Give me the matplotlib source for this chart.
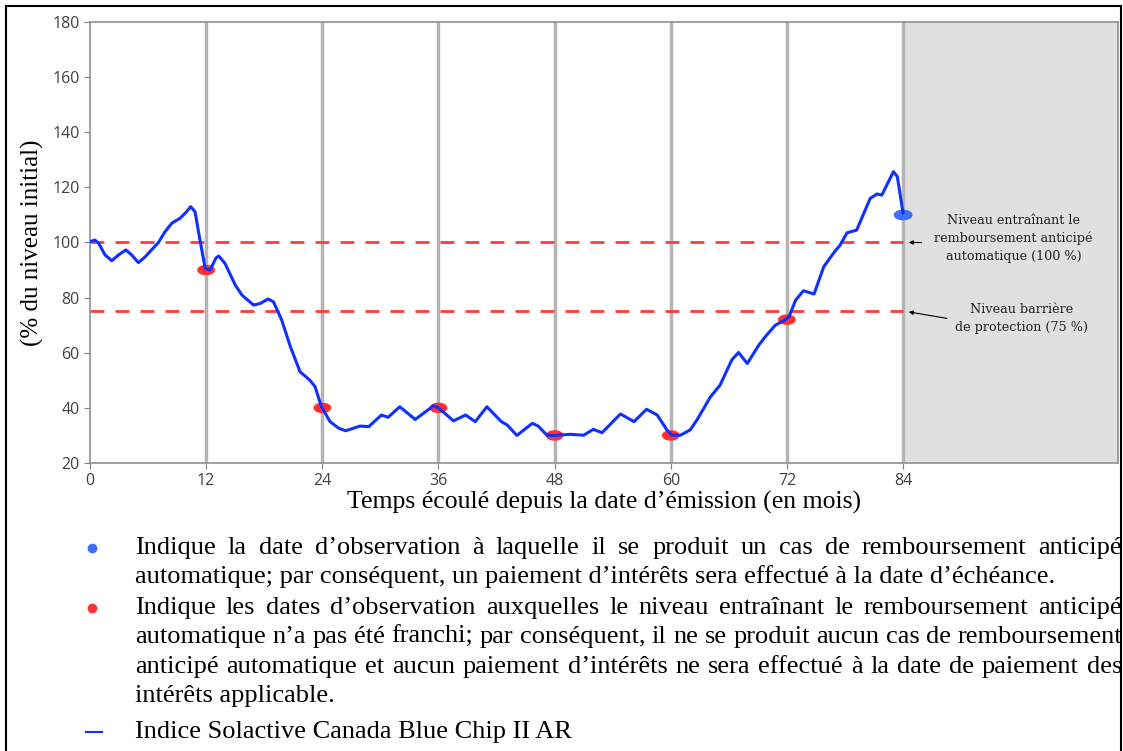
import matplotlib
matplotlib.use('Agg')
import matplotlib.pyplot as plt
from matplotlib.patches import Ellipse, Rectangle
from matplotlib.lines import Line2D

W, H = 1123, 751

# index path (months, % of initial level)
mois = [0, 0.5, 0.9, 1.55, 2.25, 2.95, 3.7, 4.3, 5.0, 5.7, 6.4, 7.05, 7.75, 8.45, 9.3,
        10.0, 10.4, 10.85, 11.3, 11.9, 12.4, 13.0, 13.3, 13.95, 15.0, 15.7, 16.9, 17.6,
        18.4, 18.95, 19.8, 20.7, 21.7, 22.7, 23.25, 23.9, 24.8, 25.7, 26.4, 27.9, 28.8,
        30.1, 30.8, 32.0, 33.6, 35.5, 36.0, 37.55, 38.8, 39.8, 41.0, 42.5, 43.1, 44.1,
        45.7, 46.3, 47.2, 48.0, 49.6, 51.0, 52.0, 52.9, 54.8, 56.2, 57.5, 58.6, 59.6,
        60.1, 61.0, 62.0, 62.7, 64.1, 65.1, 66.3, 67.0, 67.9, 69.1, 69.9, 70.8, 71.8,
        72.2, 72.9, 73.7, 74.8, 75.8, 76.8, 77.5, 78.2, 79.2, 80.6, 81.3, 81.8, 83.0,
        83.4, 84.0]
niveau = [100.3, 100.9, 99.7, 95.5, 93.4, 95.5, 97.3, 95.5, 92.7, 94.8, 97.5, 99.9, 103.9, 107, 108.8,
          111.2, 113, 111.2, 102.1, 90.6, 90, 94.3, 95.1, 92.4, 84.6, 80.9, 77.3, 77.9,
          79.5, 78.5, 71.9, 62.2, 53.1, 50.1, 47.7, 40.5, 35, 32.6, 31.7, 33.4, 33.2,
          37.4, 36.6, 40.4, 35.8, 40.8, 40, 35.3, 37.4, 35, 40.4, 35, 33.8, 30,
          34.4, 33.4, 30.1, 30, 30.4, 30.1, 32.2, 31, 37.8, 35, 39.5, 37.4, 32,
          30.1, 30.1, 32, 35.6, 44, 48.3, 57.4, 60.1, 56.1, 62.8, 66.4, 70, 71.9,
          73, 79.1, 82.5, 81.3, 91.2, 96.1, 99.1, 103.5, 104.5, 116, 117.6, 117.2, 125.7,
          123.9, 110.6]

obs_rouge_x = [12, 24, 36, 48, 60, 72]
obs_rouge_y = [90, 40, 40, 30, 30, 72]
obs_bleu_x = [84]
obs_bleu_y = [110]

dates_obs = [12, 24, 36, 48, 60, 72, 84]
seuil_remb = 100
seuil_barriere = 75

fig = plt.figure(figsize=(W / 100, H / 100), dpi=100)
ax = fig.add_axes([90 / W, 1 - 463 / H, (1118 - 90) / W, (463 - 22) / H])

xmax = 106.2
ax.set_xlim(0, xmax)
ax.set_ylim(20, 180)

ax.axvspan(84, xmax, color='#e0e0e0', zorder=0)
for d in dates_obs:
    ax.axvline(d, color='#b4b4b4', lw=2.5, zorder=1)

ax.plot([0, 84], [seuil_remb] * 2, color='#ff3b3b', lw=2, dashes=(5, 4), zorder=2)
ax.plot([0, 84], [seuil_barriere] * 2, color='#ff3b3b', lw=2, dashes=(5, 4), zorder=2)

for x, y in zip(obs_rouge_x, obs_rouge_y):
    ax.add_patch(Ellipse((x, y), 1.7, 3.3, color='#ff3030', zorder=3))
for x, y in zip(obs_bleu_x, obs_bleu_y):
    ax.add_patch(Ellipse((x, y), 1.8, 3.4, color='#3f6fff', zorder=3))

ax.plot(mois, niveau, color='#1030ff', lw=2.2, zorder=4,
        solid_joinstyle='round', solid_capstyle='round')

ax.set_xticks([0] + dates_obs)
ax.set_yticks(range(20, 181, 20))
for lab in ax.get_xticklabels() + ax.get_yticklabels():
    lab.set_family('Open Sans')
    lab.set_fontsize(11.5)
ax.tick_params(colors='#808080', length=4, labelcolor='#404040')
for s in ax.spines.values():
    s.set_color('#909090')
    s.set_linewidth(1.2)

ax.set_ylabel('(% du niveau initial)', family='Liberation Serif', fontsize=18, labelpad=6)
ax.set_xlabel('Temps écoulé depuis la date d’émission (en mois)', family='Liberation Serif',
              fontsize=18.5, labelpad=1)

ann = dict(family='DejaVu Serif', fontsize=9.2, color='#202020', ha='center', va='center',
           linespacing=1.45)
ax.annotate('', xy=(84.3, seuil_remb), xytext=(86.2, seuil_remb),
            arrowprops=dict(arrowstyle='-|>', color='black', lw=0.8, mutation_scale=6))
ax.text(95.4, 101.5, 'Niveau entraînant le\nremboursement anticipé\nautomatique (100 %)', **ann)
ax.annotate('', xy=(84.3, seuil_barriere), xytext=(88.8, 72.3),
            arrowprops=dict(arrowstyle='-|>', color='black', lw=0.8, mutation_scale=6))
ax.text(96.2, 72.5, 'Niveau barrière\nde protection (75 %)', **ann)

# frame around the figure
fig.add_artist(Rectangle((6 / W, -0.01), (1121 - 6) / W, 1 - 6 / H + 0.01, transform=fig.transFigure,
                         fill=False, edgecolor='black', lw=1.5))

# notes below the chart
lignes = [
    ('Indique la date d’observation à laquelle il se produit un cas de remboursement anticipé', 554, True),
    ('automatique; par conséquent, un paiement d’intérêts sera effectué à la date d’échéance.', 583, False),
    ('Indique les dates d’observation auxquelles le niveau entraînant le remboursement anticipé', 614, True),
    ('automatique n’a pas été franchi; par conséquent, il ne se produit aucun cas de remboursement', 643, True),
    ('anticipé automatique et aucun paiement d’intérêts ne sera effectué à la date de paiement des', 673, True),
    ('intérêts applicable.', 702, False),
    ('Indice Solactive Canada Blue Chip II AR', 738, False),
]
x0, x1 = 135, 1122
renderer = fig.canvas.get_renderer()
txt = dict(family='Liberation Serif', fontsize=19, color='black', va='baseline', ha='left')
for ligne, yb, just in lignes:
    if not just:
        fig.text(x0 / W, 1 - yb / H, ligne, **txt)
        continue
    mots = ligne.split(' ')
    arts = [fig.text(0, 1 - yb / H, m, **txt) for m in mots]
    larg = [a.get_window_extent(renderer).width for a in arts]
    gap = (x1 - x0 - sum(larg)) / (len(mots) - 1)
    x = x0
    for a, w in zip(arts, larg):
        a.set_x(x / W)
        x += w + gap

fig.add_artist(Line2D([92 / W], [1 - 548 / H], marker='o', ms=6, color='#3f6fff', transform=fig.transFigure))
fig.add_artist(Line2D([92 / W], [1 - 608 / H], marker='o', ms=6, color='#ff3030', transform=fig.transFigure))
fig.add_artist(Line2D([86 / W, 102 / W], [1 - 732 / H] * 2, lw=1.5, color='#1030ff', transform=fig.transFigure))

fig.savefig('out.png', dpi=100)
